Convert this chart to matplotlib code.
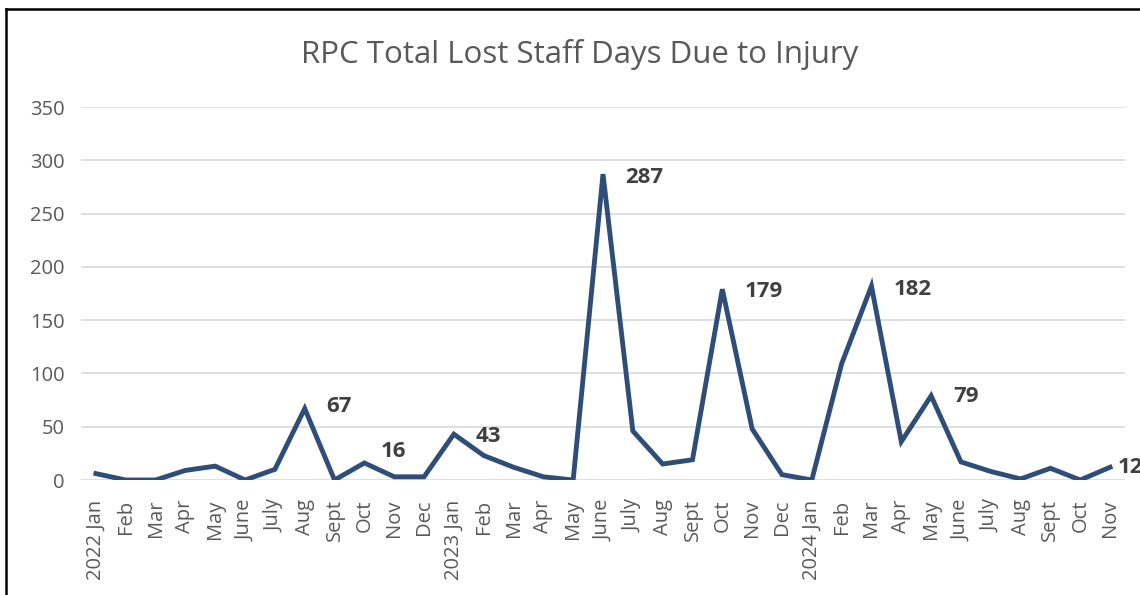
import matplotlib
matplotlib.use("Agg")
import matplotlib.pyplot as plt
from matplotlib.lines import Line2D

months = ["2022 Jan", "Feb", "Mar", "Apr", "May", "June", "July", "Aug", "Sept", "Oct", "Nov", "Dec",
          "2023 Jan", "Feb", "Mar", "Apr", "May", "June", "July", "Aug", "Sept", "Oct", "Nov", "Dec",
          "2024 Jan", "Feb", "Mar", "Apr", "May", "June", "July", "Aug", "Sept", "Oct", "Nov"]
lost_days = [6, 0, 0, 9, 13, 0, 10, 67, 0, 16, 3, 3,
             43, 23, 12, 3, 0, 287, 46, 15, 19, 179, 48, 5,
             0, 109, 182, 36, 79, 17, 8, 1, 11, 0, 12]
# index of labelled points and label offsets in pixels
label_idx = [7, 9, 12, 17, 21, 26, 28, 34]
label_off = [(22, 2), (16, 11), (22, -2), (22, -3), (22, -2), (22, -3), (22, -1), (8, 0)]

plt.rcParams["font.family"] = ["Open Sans", "DejaVu Sans"]

fig = plt.figure(figsize=(11.4, 5.95), dpi=100)
ax = fig.add_axes([81 / 1140, 115 / 595, (1125 - 81) / 1140, (480 - 107) / 595])

x = list(range(len(months)))
ax.plot(x, lost_days, color="#2E4D78", lw=3.5, solid_joinstyle="miter", zorder=3)

for i, (dx, dy) in zip(label_idx, label_off):
    ax.annotate(str(lost_days[i]), (i, lost_days[i]), xytext=(dx, dy), textcoords="offset pixels",
                ha="left", va="center", fontsize=16, fontweight="bold", color="#404040",
                annotation_clip=False, clip_on=False)

ax.set_xlim(-0.5, len(months) - 0.5)
ax.set_ylim(0, 350)
ax.set_yticks(range(0, 351, 50))
ax.set_xticks(x)
ax.set_xticklabels(months, rotation=90)
ax.tick_params(axis="both", length=0, labelsize=14.5, labelcolor="#595959")
ax.tick_params(axis="x", pad=14)
ax.tick_params(axis="y", pad=12)
ax.grid(axis="y", color="#D9D9D9", lw=1.2)
ax.set_axisbelow(True)
for s in ax.spines.values():
    s.set_visible(False)

fig.text(580 / 1140, 1 - 55 / 595, "RPC Total Lost Staff Days Due to Injury", ha="center", va="center",
         fontsize=22.5, color="#595959")

# chart frame (cropped on right and bottom)
fig.add_artist(Line2D([6 / 1140, 6 / 1140], [0, 1 - 9 / 595], color="black", lw=1.8))
fig.add_artist(Line2D([6 / 1140, 1], [1 - 9 / 595, 1 - 9 / 595], color="black", lw=1.8))

fig.savefig("out.png", dpi=100)
